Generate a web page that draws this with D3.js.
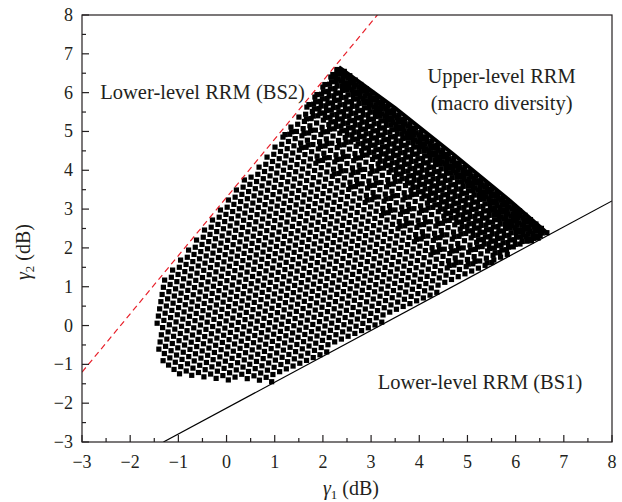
<!DOCTYPE html>
<html>
<head>
<meta charset="utf-8">
<script src="https://cdn.jsdelivr.net/npm/d3@7"></script>
<style>
  body { margin: 0; background: #fff; }
  text { font-family: "Liberation Serif", "DejaVu Serif", serif; fill: #231f20; }
</style>
</head>
<body>
<div id="chart"></div>
<script>
// axis ticks (dB)
const majorTicks = [-3, -2, -1, 0, 1, 2, 3, 4, 5, 6, 7, 8];
const minorTicks = [-2.5, -1.5, -0.5, 0.5, 1.5, 2.5, 3.5, 4.5, 5.5, 6.5, 7.5];

// boundary lines [gamma1, gamma2]
const bs2Line = [[-3, -1.2], [3.13, 8]];   // red dashed
const bs1Line = [[-1.31, -3], [8, 3.21]];  // solid black

// outline of the feasible (gamma1, gamma2) cloud
const cloudEdge = [
  [2.33, 6.66], [3.5, 5.6], [4.7, 4.42], [5.8, 3.3], [6.66, 2.38],
  [0.9, -1.48], [0.0, -1.4], [-0.8, -1.3], [-1.25, -1.18], [-1.42, -0.85],
  [-1.47, 0.0], [-1.45, 0.9], [-1.36, 1.2]
];
// upper-right rim of the cloud, where the points pile up
const rim = [[2.33, 6.66], [3.5, 5.6], [4.7, 4.42], [5.8, 3.3], [6.66, 2.38]];
// gamma1 + gamma2 levels beyond which the points get denser
const denseLevels = [6.0, 7.3, 8.5];

const labels = [
  {text: "Lower-level RRM (BS2)", x: -2.62, y: 6.0, anchor: "start"},
  {text: "Upper-level RRM", x: 5.71, y: 6.4, anchor: "middle"},
  {text: "(macro diversity)", x: 5.71, y: 5.72, anchor: "middle"},
  {text: "Lower-level RRM (BS1)", x: 5.26, y: -1.48, anchor: "middle"}
];

const margin = {top: 15, right: 10, bottom: 60, left: 82};
const width = 622 - margin.left - margin.right;
const height = 502 - margin.top - margin.bottom;

const svg = d3.select("#chart")
    .append("svg")
    .attr("width", 622)
    .attr("height", 502)
    .append("g")
    .attr("transform", `translate(${margin.left},${margin.top})`);

const x = d3.scaleLinear().domain([-3, 8]).range([0, width]);
const y = d3.scaleLinear().domain([-3, 8]).range([height, 0]);

svg.append("defs").append("clipPath").attr("id", "plot")
    .append("rect").attr("width", width).attr("height", height);

// scatter cloud: markers on a lattice running parallel to the rim
const inCloud = p => d3.polygonContains(cloudEdge, p);
const ang = Math.atan2(y(rim[4][1]) - y(rim[0][1]), x(rim[4][0]) - x(rim[0][0]));
const e1 = [7.0 * Math.cos(ang), 7.0 * Math.sin(ang)];
const e2 = [-6.4 * Math.sin(ang), 6.4 * Math.cos(ang)];
const o = [x(rim[0][0]), y(rim[0][1])];
const pts = [];
const tryAdd = (px, py, minSum) => {
  const p = [x.invert(px), y.invert(py)];
  if (p[0] + p[1] > minSum && inCloud(p)) pts.push(p);
};
for (let j = -5; j < 75; j++) {
  for (let i = -60; i < 60; i++) {
    const k = i + (j % 2) * 0.5;
    const px = o[0] + k * e1[0] + j * e2[0];
    const py = o[1] + k * e1[1] + j * e2[1];
    tryAdd(px, py, -99);
    const mid = [px + e1[0] / 2 + e2[0] / 2, py + e1[1] / 2 + e2[1] / 2];
    tryAdd(mid[0], mid[1], (i + j) % 3 === 0 ? denseLevels[0] : denseLevels[1]);
    tryAdd(px + e2[0] / 2, py + e2[1] / 2, denseLevels[2]);
  }
}

const cloud = svg.append("g").attr("clip-path", "url(#plot)");
cloud.selectAll("rect")
    .data(pts)
    .enter()
    .append("rect")
    .attr("x", d => x(d[0]) - 2.6)
    .attr("y", d => y(d[1]) - 2.6)
    .attr("width", 5.2)
    .attr("height", 5.2)
    .attr("fill", "#000");

const line = d3.line().x(d => x(d[0])).y(d => y(d[1]));
cloud.append("path")
    .attr("d", line(rim))
    .attr("fill", "none")
    .attr("stroke", "#000")
    .attr("stroke-width", 4);

// boundary lines
svg.append("path")
    .attr("d", line(bs1Line))
    .attr("stroke", "#000")
    .attr("stroke-width", 1.2)
    .attr("fill", "none")
    .attr("clip-path", "url(#plot)");
svg.append("path")
    .attr("d", line(bs2Line))
    .attr("stroke", "#e8202a")
    .attr("stroke-width", 1.2)
    .attr("stroke-dasharray", "6,4")
    .attr("fill", "none")
    .attr("clip-path", "url(#plot)");

// frame
svg.append("rect")
    .attr("width", width)
    .attr("height", height)
    .attr("fill", "none")
    .attr("stroke", "#231f20")
    .attr("stroke-width", 1.2);

// ticks (inward)
const tickG = svg.append("g").attr("stroke", "#231f20").attr("stroke-width", 1.2);
majorTicks.forEach(t => {
  tickG.append("line").attr("x1", x(t)).attr("x2", x(t)).attr("y1", height).attr("y2", height - 7);
  tickG.append("line").attr("x1", 0).attr("x2", 7).attr("y1", y(t)).attr("y2", y(t));
});
minorTicks.forEach(t => {
  tickG.append("line").attr("x1", x(t)).attr("x2", x(t)).attr("y1", height).attr("y2", height - 4);
  tickG.append("line").attr("x1", 0).attr("x2", 4).attr("y1", y(t)).attr("y2", y(t));
});

const fmt = t => (t < 0 ? "\u2212" + Math.abs(t) : String(t));
svg.append("g").selectAll("text")
    .data(majorTicks)
    .enter()
    .append("text")
    .attr("x", d => x(d))
    .attr("y", height + 26)
    .attr("text-anchor", "middle")
    .style("font-size", "18px")
    .text(fmt);
svg.append("g").selectAll("text")
    .data(majorTicks)
    .enter()
    .append("text")
    .attr("x", -9)
    .attr("y", d => y(d) + 6)
    .attr("text-anchor", "end")
    .style("font-size", "18px")
    .text(fmt);

// axis titles
const xt = svg.append("text")
    .attr("x", 351 - margin.left)
    .attr("y", height + 53)
    .attr("text-anchor", "middle")
    .style("font-size", "20px");
xt.append("tspan").style("font-style", "italic").text("\u03b3");
xt.append("tspan").attr("dy", 4).style("font-size", "13px").text("1");
xt.append("tspan").attr("dy", -4).text(" (dB)");

const yt = svg.append("text")
    .attr("transform", `translate(${30 - margin.left},${252 - margin.top}) rotate(-90)`)
    .attr("text-anchor", "middle")
    .style("font-size", "20px");
yt.append("tspan").style("font-style", "italic").text("\u03b3");
yt.append("tspan").attr("dy", 4).style("font-size", "13px").text("2");
yt.append("tspan").attr("dy", -4).text(" (dB)");

// region annotations
svg.append("g").selectAll("text")
    .data(labels)
    .enter()
    .append("text")
    .attr("x", d => x(d.x))
    .attr("y", d => y(d.y) + 6)
    .attr("text-anchor", d => d.anchor)
    .style("font-size", "20.5px")
    .text(d => d.text);
</script>
</body>
</html>
